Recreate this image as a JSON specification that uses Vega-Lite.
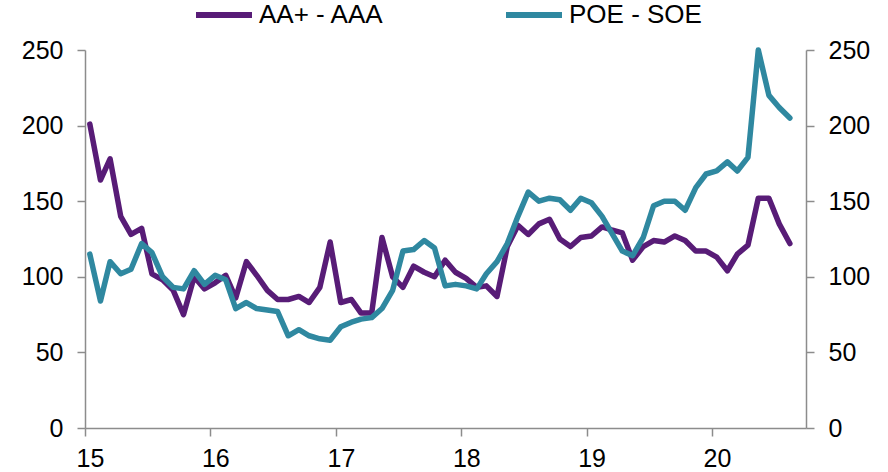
{
  "$schema": "https://vega.github.io/schema/vega-lite/v6.json",
  "width": 721,
  "height": 378,
  "autosize": {"type": "none"},
  "padding": {"left": 85, "top": 50, "right": 82, "bottom": 44},
  "background": "white",
  "config": {
    "view": {"stroke": null},
    "font": "Liberation Sans",
    "axis": {
      "domainColor": "#8c8c8c",
      "domainWidth": 1.5,
      "tickColor": "#8c8c8c",
      "tickWidth": 1.5,
      "tickSize": 8,
      "grid": false,
      "labelFont": "Liberation Sans",
      "labelFontSize": 25,
      "labelColor": "#000000",
      "title": null
    },
    "legend": {
      "labelFont": "Liberation Sans",
      "labelFontSize": 26,
      "labelColor": "#000000"
    }
  },
  "data": {
    "values": [
      {"date": "2015-01-15", "series": "AA+ - AAA", "value": 201},
      {"date": "2015-02-15", "series": "AA+ - AAA", "value": 164},
      {"date": "2015-03-15", "series": "AA+ - AAA", "value": 178},
      {"date": "2015-04-15", "series": "AA+ - AAA", "value": 140},
      {"date": "2015-05-15", "series": "AA+ - AAA", "value": 128},
      {"date": "2015-06-15", "series": "AA+ - AAA", "value": 132},
      {"date": "2015-07-15", "series": "AA+ - AAA", "value": 102},
      {"date": "2015-08-15", "series": "AA+ - AAA", "value": 98},
      {"date": "2015-09-15", "series": "AA+ - AAA", "value": 91},
      {"date": "2015-10-15", "series": "AA+ - AAA", "value": 75},
      {"date": "2015-11-15", "series": "AA+ - AAA", "value": 100},
      {"date": "2015-12-15", "series": "AA+ - AAA", "value": 92},
      {"date": "2016-01-15", "series": "AA+ - AAA", "value": 96},
      {"date": "2016-02-15", "series": "AA+ - AAA", "value": 101},
      {"date": "2016-03-15", "series": "AA+ - AAA", "value": 86},
      {"date": "2016-04-15", "series": "AA+ - AAA", "value": 110},
      {"date": "2016-05-15", "series": "AA+ - AAA", "value": 101},
      {"date": "2016-06-15", "series": "AA+ - AAA", "value": 91},
      {"date": "2016-07-15", "series": "AA+ - AAA", "value": 85},
      {"date": "2016-08-15", "series": "AA+ - AAA", "value": 85},
      {"date": "2016-09-15", "series": "AA+ - AAA", "value": 87},
      {"date": "2016-10-15", "series": "AA+ - AAA", "value": 83},
      {"date": "2016-11-15", "series": "AA+ - AAA", "value": 93},
      {"date": "2016-12-15", "series": "AA+ - AAA", "value": 123},
      {"date": "2017-01-15", "series": "AA+ - AAA", "value": 83},
      {"date": "2017-02-15", "series": "AA+ - AAA", "value": 85},
      {"date": "2017-03-15", "series": "AA+ - AAA", "value": 76},
      {"date": "2017-04-15", "series": "AA+ - AAA", "value": 76},
      {"date": "2017-05-15", "series": "AA+ - AAA", "value": 126},
      {"date": "2017-06-15", "series": "AA+ - AAA", "value": 100},
      {"date": "2017-07-15", "series": "AA+ - AAA", "value": 93},
      {"date": "2017-08-15", "series": "AA+ - AAA", "value": 107},
      {"date": "2017-09-15", "series": "AA+ - AAA", "value": 103},
      {"date": "2017-10-15", "series": "AA+ - AAA", "value": 100},
      {"date": "2017-11-15", "series": "AA+ - AAA", "value": 111},
      {"date": "2017-12-15", "series": "AA+ - AAA", "value": 103},
      {"date": "2018-01-15", "series": "AA+ - AAA", "value": 99},
      {"date": "2018-02-15", "series": "AA+ - AAA", "value": 93},
      {"date": "2018-03-15", "series": "AA+ - AAA", "value": 94},
      {"date": "2018-04-15", "series": "AA+ - AAA", "value": 87},
      {"date": "2018-05-15", "series": "AA+ - AAA", "value": 120},
      {"date": "2018-06-15", "series": "AA+ - AAA", "value": 134},
      {"date": "2018-07-15", "series": "AA+ - AAA", "value": 128},
      {"date": "2018-08-15", "series": "AA+ - AAA", "value": 135},
      {"date": "2018-09-15", "series": "AA+ - AAA", "value": 138},
      {"date": "2018-10-15", "series": "AA+ - AAA", "value": 125},
      {"date": "2018-11-15", "series": "AA+ - AAA", "value": 120},
      {"date": "2018-12-15", "series": "AA+ - AAA", "value": 126},
      {"date": "2019-01-15", "series": "AA+ - AAA", "value": 127},
      {"date": "2019-02-15", "series": "AA+ - AAA", "value": 133},
      {"date": "2019-03-15", "series": "AA+ - AAA", "value": 131},
      {"date": "2019-04-15", "series": "AA+ - AAA", "value": 129},
      {"date": "2019-05-15", "series": "AA+ - AAA", "value": 111},
      {"date": "2019-06-15", "series": "AA+ - AAA", "value": 120},
      {"date": "2019-07-15", "series": "AA+ - AAA", "value": 124},
      {"date": "2019-08-15", "series": "AA+ - AAA", "value": 123},
      {"date": "2019-09-15", "series": "AA+ - AAA", "value": 127},
      {"date": "2019-10-15", "series": "AA+ - AAA", "value": 124},
      {"date": "2019-11-15", "series": "AA+ - AAA", "value": 117},
      {"date": "2019-12-15", "series": "AA+ - AAA", "value": 117},
      {"date": "2020-01-15", "series": "AA+ - AAA", "value": 113},
      {"date": "2020-02-15", "series": "AA+ - AAA", "value": 104},
      {"date": "2020-03-15", "series": "AA+ - AAA", "value": 115},
      {"date": "2020-04-15", "series": "AA+ - AAA", "value": 121},
      {"date": "2020-05-15", "series": "AA+ - AAA", "value": 152},
      {"date": "2020-06-15", "series": "AA+ - AAA", "value": 152},
      {"date": "2020-07-15", "series": "AA+ - AAA", "value": 135},
      {"date": "2020-08-15", "series": "AA+ - AAA", "value": 122},
      {"date": "2015-01-15", "series": "POE - SOE", "value": 115},
      {"date": "2015-02-15", "series": "POE - SOE", "value": 84},
      {"date": "2015-03-15", "series": "POE - SOE", "value": 110},
      {"date": "2015-04-15", "series": "POE - SOE", "value": 102},
      {"date": "2015-05-15", "series": "POE - SOE", "value": 105},
      {"date": "2015-06-15", "series": "POE - SOE", "value": 122},
      {"date": "2015-07-15", "series": "POE - SOE", "value": 116},
      {"date": "2015-08-15", "series": "POE - SOE", "value": 100},
      {"date": "2015-09-15", "series": "POE - SOE", "value": 93},
      {"date": "2015-10-15", "series": "POE - SOE", "value": 92},
      {"date": "2015-11-15", "series": "POE - SOE", "value": 104},
      {"date": "2015-12-15", "series": "POE - SOE", "value": 95},
      {"date": "2016-01-15", "series": "POE - SOE", "value": 101},
      {"date": "2016-02-15", "series": "POE - SOE", "value": 98},
      {"date": "2016-03-15", "series": "POE - SOE", "value": 79},
      {"date": "2016-04-15", "series": "POE - SOE", "value": 83},
      {"date": "2016-05-15", "series": "POE - SOE", "value": 79},
      {"date": "2016-06-15", "series": "POE - SOE", "value": 78},
      {"date": "2016-07-15", "series": "POE - SOE", "value": 77},
      {"date": "2016-08-15", "series": "POE - SOE", "value": 61},
      {"date": "2016-09-15", "series": "POE - SOE", "value": 65},
      {"date": "2016-10-15", "series": "POE - SOE", "value": 61},
      {"date": "2016-11-15", "series": "POE - SOE", "value": 59},
      {"date": "2016-12-15", "series": "POE - SOE", "value": 58},
      {"date": "2017-01-15", "series": "POE - SOE", "value": 67},
      {"date": "2017-02-15", "series": "POE - SOE", "value": 70},
      {"date": "2017-03-15", "series": "POE - SOE", "value": 72},
      {"date": "2017-04-15", "series": "POE - SOE", "value": 73},
      {"date": "2017-05-15", "series": "POE - SOE", "value": 79},
      {"date": "2017-06-15", "series": "POE - SOE", "value": 91},
      {"date": "2017-07-15", "series": "POE - SOE", "value": 117},
      {"date": "2017-08-15", "series": "POE - SOE", "value": 118},
      {"date": "2017-09-15", "series": "POE - SOE", "value": 124},
      {"date": "2017-10-15", "series": "POE - SOE", "value": 119},
      {"date": "2017-11-15", "series": "POE - SOE", "value": 94},
      {"date": "2017-12-15", "series": "POE - SOE", "value": 95},
      {"date": "2018-01-15", "series": "POE - SOE", "value": 94},
      {"date": "2018-02-15", "series": "POE - SOE", "value": 92},
      {"date": "2018-03-15", "series": "POE - SOE", "value": 102},
      {"date": "2018-04-15", "series": "POE - SOE", "value": 110},
      {"date": "2018-05-15", "series": "POE - SOE", "value": 122},
      {"date": "2018-06-15", "series": "POE - SOE", "value": 140},
      {"date": "2018-07-15", "series": "POE - SOE", "value": 156},
      {"date": "2018-08-15", "series": "POE - SOE", "value": 150},
      {"date": "2018-09-15", "series": "POE - SOE", "value": 152},
      {"date": "2018-10-15", "series": "POE - SOE", "value": 151},
      {"date": "2018-11-15", "series": "POE - SOE", "value": 144},
      {"date": "2018-12-15", "series": "POE - SOE", "value": 152},
      {"date": "2019-01-15", "series": "POE - SOE", "value": 149},
      {"date": "2019-02-15", "series": "POE - SOE", "value": 140},
      {"date": "2019-03-15", "series": "POE - SOE", "value": 129},
      {"date": "2019-04-15", "series": "POE - SOE", "value": 117},
      {"date": "2019-05-15", "series": "POE - SOE", "value": 114},
      {"date": "2019-06-15", "series": "POE - SOE", "value": 126},
      {"date": "2019-07-15", "series": "POE - SOE", "value": 147},
      {"date": "2019-08-15", "series": "POE - SOE", "value": 150},
      {"date": "2019-09-15", "series": "POE - SOE", "value": 150},
      {"date": "2019-10-15", "series": "POE - SOE", "value": 144},
      {"date": "2019-11-15", "series": "POE - SOE", "value": 159},
      {"date": "2019-12-15", "series": "POE - SOE", "value": 168},
      {"date": "2020-01-15", "series": "POE - SOE", "value": 170},
      {"date": "2020-02-15", "series": "POE - SOE", "value": 176},
      {"date": "2020-03-15", "series": "POE - SOE", "value": 170},
      {"date": "2020-04-15", "series": "POE - SOE", "value": 179},
      {"date": "2020-05-15", "series": "POE - SOE", "value": 250},
      {"date": "2020-06-15", "series": "POE - SOE", "value": 220},
      {"date": "2020-07-15", "series": "POE - SOE", "value": 212},
      {"date": "2020-08-15", "series": "POE - SOE", "value": 205}
    ]
  },
  "encoding": {
    "x": {
      "field": "date",
      "type": "temporal",
      "scale": {
        "type": "utc",
        "domain": [
          {"year": 2015, "month": 1, "date": 1, "utc": true},
          {"year": 2020, "month": 10, "date": 1, "utc": true}
        ]
      },
      "axis": {
        "values": [
          {"year": 2015, "month": 1, "date": 1, "utc": true},
          {"year": 2016, "month": 1, "date": 1, "utc": true},
          {"year": 2017, "month": 1, "date": 1, "utc": true},
          {"year": 2018, "month": 1, "date": 1, "utc": true},
          {"year": 2019, "month": 1, "date": 1, "utc": true},
          {"year": 2020, "month": 1, "date": 1, "utc": true}
        ],
        "format": "%y",
        "labelOffset": 5,
        "labelPadding": 10,
        "labelFlush": false,
        "labelOverlap": false
      }
    },
    "color": {
      "field": "series",
      "type": "nominal",
      "scale": {"domain": ["AA+ - AAA", "POE - SOE"], "range": ["#581c77", "#2f88a0"]},
      "legend": {
        "title": null,
        "orient": "none",
        "direction": "horizontal",
        "legendX": 108,
        "legendY": -66,
        "symbolType": "stroke",
        "symbolSize": 3136,
        "symbolStrokeWidth": 6,
        "labelOffset": 4,
        "columnPadding": 110
      }
    }
  },
  "layer": [
    {
      "transform": [{"filter": "datum.series === 'AA+ - AAA'"}],
      "mark": {"type": "line", "strokeWidth": 5.5, "strokeJoin": "round", "strokeCap": "round"},
      "encoding": {
        "y": {
          "field": "value",
          "type": "quantitative",
          "scale": {"domain": [0, 250], "nice": false},
          "axis": {"orient": "left", "values": [0, 50, 100, 150, 200, 250], "labelPadding": 14}
        }
      }
    },
    {
      "transform": [{"filter": "datum.series === 'POE - SOE'"}],
      "mark": {"type": "line", "strokeWidth": 5.5, "strokeJoin": "round", "strokeCap": "round"},
      "encoding": {
        "y": {
          "field": "value",
          "type": "quantitative",
          "scale": {"domain": [0, 250], "nice": false},
          "axis": {"orient": "right", "values": [0, 50, 100, 150, 200, 250], "labelPadding": 14}
        }
      }
    }
  ],
  "resolve": {"scale": {"y": "independent"}}
}
